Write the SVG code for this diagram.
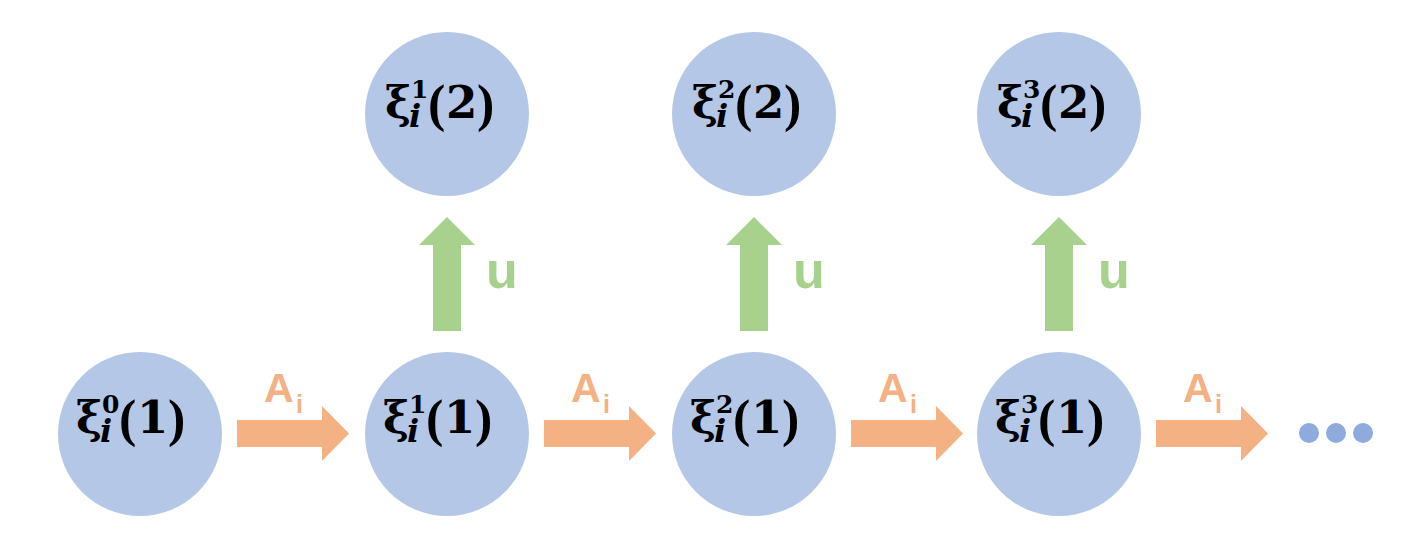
<svg xmlns="http://www.w3.org/2000/svg" width="1422" height="542" viewBox="0 0 1422 542">
<style>
.node{fill:#B4C7E7}
.xi{font-family:"DejaVu Serif","Liberation Serif",serif;font-weight:bold;fill:#000}
.g{font-size:44px}
.d{font-size:45px}
.p{font-size:52px;font-family:"Liberation Serif",serif}
.sup{font-size:25px}
.sub{font-size:32px;font-style:italic}
.oa{fill:#F4B183}
.ga{fill:#A9D18E}
.ol{font-family:"Liberation Sans",Arial,sans-serif;font-weight:bold;fill:#F4B183}
.A{font-size:41px}
.Ai{font-size:25px}
.gl{font-family:"Liberation Sans",Arial,sans-serif;font-weight:bold;fill:#A9D18E;font-size:52px}
.dot{fill:#8FAADC}
</style>
<defs>
<path id="harrow" d="M0,14 H85 V0 L112,27.5 L85,55 V41 H0 Z"/>
<path id="varrow" d="M14,114 V28 H0 L28,0 L56,28 H42 V114 Z"/>
</defs>
<g id="connectors">
<use href="#harrow" class="oa" x="237" y="406"/>
<use href="#harrow" class="oa" x="544" y="406"/>
<use href="#harrow" class="oa" x="851" y="406"/>
<use href="#harrow" class="oa" x="1156" y="406"/>
<use href="#varrow" class="ga" x="419" y="217"/>
<use href="#varrow" class="ga" x="726" y="217"/>
<use href="#varrow" class="ga" x="1031" y="217"/>
<text class="ol A" x="264" y="402">A</text>
<text class="ol Ai" x="296" y="413">i</text>
<text class="ol A" x="571" y="402">A</text>
<text class="ol Ai" x="603" y="413">i</text>
<text class="ol A" x="878" y="402">A</text>
<text class="ol Ai" x="910" y="413">i</text>
<text class="ol A" x="1183" y="402">A</text>
<text class="ol Ai" x="1215" y="413">i</text>
<text class="gl" x="486" y="288">u</text>
<text class="gl" x="793" y="288">u</text>
<text class="gl" x="1098" y="288">u</text>
</g>
<g id="n0" transform="translate(140,434)">
<circle class="node" r="82"/>
<text class="xi"><tspan class="g" x="-64" y="-1">ξ</tspan><tspan class="sup" x="-38" y="-21">0</tspan><tspan class="sub" x="-40" y="8">i</tspan><tspan class="p" x="-21" y="2">(</tspan><tspan class="d" x="-3" y="-1">1</tspan><tspan class="p" x="28" y="2">)</tspan></text>
</g>
<g id="n1" transform="translate(447,434)">
<circle class="node" r="82"/>
<text class="xi"><tspan class="g" x="-64" y="-1">ξ</tspan><tspan class="sup" x="-38" y="-21">1</tspan><tspan class="sub" x="-40" y="8">i</tspan><tspan class="p" x="-21" y="2">(</tspan><tspan class="d" x="-3" y="-1">1</tspan><tspan class="p" x="28" y="2">)</tspan></text>
</g>
<g id="n2" transform="translate(754,434)">
<circle class="node" r="82"/>
<text class="xi"><tspan class="g" x="-64" y="-1">ξ</tspan><tspan class="sup" x="-38" y="-21">2</tspan><tspan class="sub" x="-40" y="8">i</tspan><tspan class="p" x="-21" y="2">(</tspan><tspan class="d" x="-3" y="-1">1</tspan><tspan class="p" x="28" y="2">)</tspan></text>
</g>
<g id="n3" transform="translate(1059,434)">
<circle class="node" r="82"/>
<text class="xi"><tspan class="g" x="-64" y="-1">ξ</tspan><tspan class="sup" x="-38" y="-21">3</tspan><tspan class="sub" x="-40" y="8">i</tspan><tspan class="p" x="-21" y="2">(</tspan><tspan class="d" x="-3" y="-1">1</tspan><tspan class="p" x="28" y="2">)</tspan></text>
</g>
<g id="t1" transform="translate(447,114)">
<circle class="node" r="82"/>
<text class="xi"><tspan class="g" x="-62" y="4">ξ</tspan><tspan class="sup" x="-36" y="-16">1</tspan><tspan class="sub" x="-38" y="13">i</tspan><tspan class="p" x="-19" y="7">(</tspan><tspan class="d" x="-1" y="4">2</tspan><tspan class="p" x="30" y="7">)</tspan></text>
</g>
<g id="t2" transform="translate(754,114)">
<circle class="node" r="82"/>
<text class="xi"><tspan class="g" x="-62" y="4">ξ</tspan><tspan class="sup" x="-36" y="-16">2</tspan><tspan class="sub" x="-38" y="13">i</tspan><tspan class="p" x="-19" y="7">(</tspan><tspan class="d" x="-1" y="4">2</tspan><tspan class="p" x="30" y="7">)</tspan></text>
</g>
<g id="t3" transform="translate(1059,114)">
<circle class="node" r="82"/>
<text class="xi"><tspan class="g" x="-62" y="4">ξ</tspan><tspan class="sup" x="-36" y="-16">3</tspan><tspan class="sub" x="-38" y="13">i</tspan><tspan class="p" x="-19" y="7">(</tspan><tspan class="d" x="-1" y="4">2</tspan><tspan class="p" x="30" y="7">)</tspan></text>
</g>
<g id="ellipsis">
<circle class="dot" cx="1309" cy="433" r="10"/>
<circle class="dot" cx="1336" cy="433" r="10"/>
<circle class="dot" cx="1363" cy="433" r="10"/>
</g>
</svg>
